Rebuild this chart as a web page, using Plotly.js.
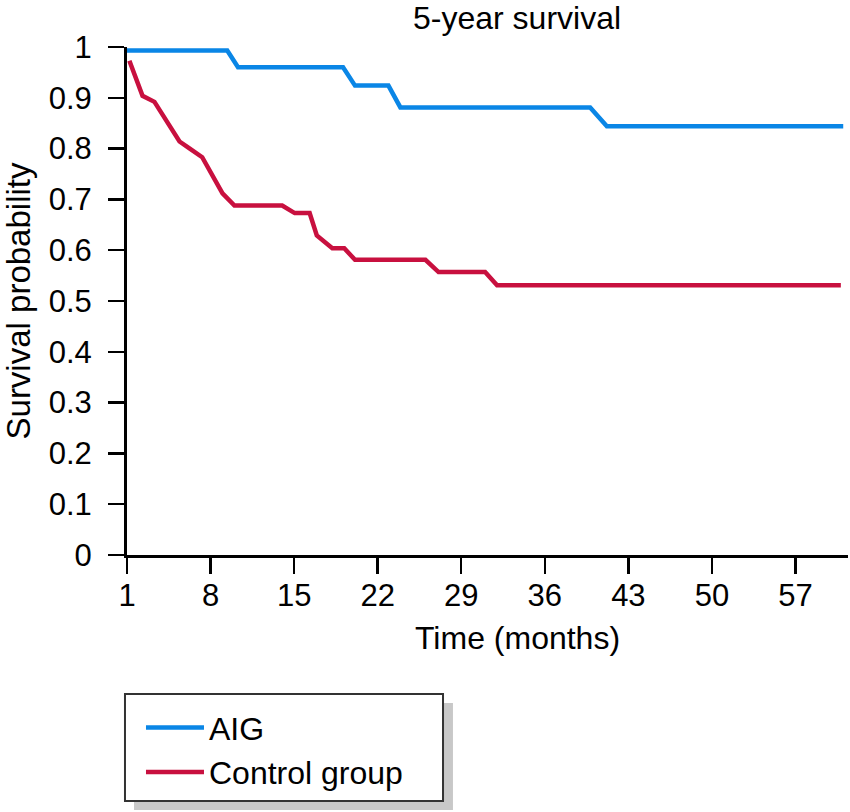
<!DOCTYPE html>
<html>
<head>
<meta charset="utf-8">
<script src="https://cdn.plot.ly/plotly-3.0.1.min.js"></script>
<style>
  html, body { margin: 0; padding: 0; background: #fff; }
  #chart { width: 850px; height: 812px; }
</style>
</head>
<body>
<div id="chart"></div>
<script>
// values
var aigTime = [1, 9.4, 10.3, 19.1, 20.1, 22.9, 23.9, 39.8, 41.2, 61.0];
var aigSurv = [0.993, 0.993, 0.960, 0.960, 0.924, 0.924, 0.881, 0.881, 0.844, 0.844];

var ctrlTime = [1.2, 2.3, 3.3, 5.4, 6.2, 7.3, 9.0, 10.0, 14.0, 15.05, 16.3, 16.9, 18.2, 19.2, 20.1, 26.0, 27.1, 31.0, 32.0, 60.8];
var ctrlSurv = [0.973, 0.904, 0.892, 0.814, 0.801, 0.783, 0.712, 0.688, 0.688, 0.673, 0.673, 0.629, 0.604, 0.604, 0.581, 0.581, 0.557, 0.557, 0.531, 0.531];

var monthTicks = [1, 8, 15, 22, 29, 36, 43, 50, 57];
var probTicks = [0, 0.1, 0.2, 0.3, 0.4, 0.5, 0.6, 0.7, 0.8, 0.9, 1];
var probLabels = ['0', '0.1', '0.2', '0.3', '0.4', '0.5', '0.6', '0.7', '0.8', '0.9', '1'];

var font = '"Liberation Sans", Arial, sans-serif';

var data = [
  {x: aigTime, y: aigSurv, type: 'scatter', mode: 'lines', name: 'AIG',
   line: {color: '#0a86e6', width: 4.5}},
  {x: ctrlTime, y: ctrlSurv, type: 'scatter', mode: 'lines', name: 'Control group',
   line: {color: '#c8103f', width: 4.5}}
];

var layout = {
  width: 850, height: 812,
  margin: {l: 127, r: 2, t: 47, b: 257},
  paper_bgcolor: '#fff', plot_bgcolor: '#fff',
  font: {family: font, size: 31, color: '#000'},
  showlegend: true,
  title: {text: '5-year survival', x: 0.541, xref: 'paper', xanchor: 'center',
          y: 0.978, yref: 'container', yanchor: 'middle',
          font: {family: font, size: 32, color: '#000'}},
  xaxis: {
    range: [1, 61.4], tickmode: 'array', tickvals: monthTicks,
    showgrid: false, zeroline: false,
    showline: true, linecolor: '#000', linewidth: 3,
    ticks: 'outside', ticklen: 16, tickwidth: 2.5, tickcolor: '#000',
    ticklabelstandoff: -5,
    tickfont: {family: font, size: 31, color: '#000'},
    fixedrange: true
  },
  yaxis: {
    range: [0, 1], tickmode: 'array', tickvals: probTicks, ticktext: probLabels,
    showgrid: false, zeroline: false,
    showline: true, linecolor: '#000', linewidth: 3,
    ticks: 'outside', ticklen: 16, tickwidth: 2.5, tickcolor: '#000',
    ticklabelstandoff: 10,
    tickfont: {family: font, size: 31, color: '#000'},
    title: {text: 'Survival probability', standoff: 12,
            font: {family: font, size: 33, color: '#000'}},
    fixedrange: true
  },
  annotations: [
    {text: 'Time (months)', xref: 'paper', yref: 'paper', x: 0.541, y: -0.163,
     xanchor: 'center', yanchor: 'middle', showarrow: false,
     font: {family: font, size: 32, color: '#000'}}
  ],
  legend: {
    x: 0.0194, y: -0.2856, xanchor: 'left', yanchor: 'top',
    bgcolor: 'rgba(0,0,0,0)', borderwidth: 0,
    itemwidth: 58, tracegroupgap: 0,
    font: {family: font, size: 32, color: '#000'}
  },
  shapes: [
    // legend drop shadow, then box
    {type: 'rect', xref: 'paper', yref: 'paper', layer: 'below',
     x0: 0.0097, x1: 0.4521, y0: -0.502, y1: -0.2913,
     fillcolor: '#c8c8c8', line: {width: 0}},
    {type: 'rect', xref: 'paper', yref: 'paper', layer: 'below',
     x0: -0.0028, x1: 0.4383, y0: -0.4843, y1: -0.2736,
     fillcolor: '#fff', line: {color: '#333', width: 2}}
  ]
};

Plotly.newPlot('chart', data, layout, {displayModeBar: false, staticPlot: true});
</script>
</body>
</html>
